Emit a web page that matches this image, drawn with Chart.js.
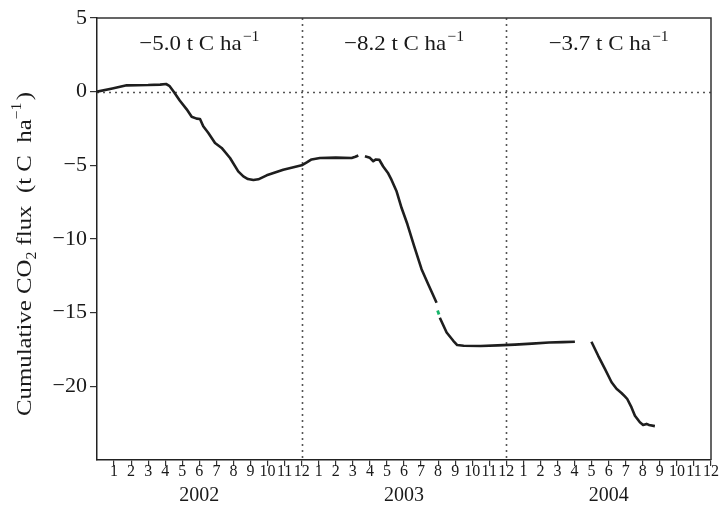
<!DOCTYPE html>
<html>
<head>
<meta charset="utf-8">
<script src="https://cdn.jsdelivr.net/npm/chart.js@4/dist/chart.umd.min.js"></script>
<style>
  html, body { margin: 0; padding: 0; background: #fff; }
  #wrap { width: 720px; height: 521px; }
</style>
</head>
<body>
<div id="wrap"><canvas id="c" width="720" height="521"></canvas></div>
<script>
// Time axis in months since 1 Jan 2002; null marks a break in the record.
const months = [
  0, 0.9, 1.74, 3.0, 3.7, 4.05, 4.24, 4.5, 4.85, 5.26, 5.55, 5.84, 6.04, 6.23, 6.53,
  6.92, 7.31, 7.8, 8.28, 8.58, 8.85, 9.17, 9.46, 9.95, 10.92, 12.0, 12.3, 12.58, 13.07,
  14.0, 14.93, 15.15, 15.32,
  15.5,
  15.71, 16.0, 16.2, 16.35, 16.55, 16.78, 17.05, 17.27, 17.57, 17.86, 18.2, 18.6,
  19.03, 19.42, 19.91,
  19.96,
  20.1, 20.5, 20.89, 21.12, 21.5, 22.5, 23.5, 24.5, 25.5, 26.5, 27.3, 28.02,
  28.5,
  28.99, 29.38, 29.78, 30.17, 30.46, 30.75, 30.95, 31.09, 31.34, 31.54, 31.83, 32.02,
  32.22, 32.37, 32.71
];
// Cumulative CO2 flux (t C ha-1)
const flux = [
  0, 0.22, 0.43, 0.45, 0.48, 0.52, 0.40, 0.0, -0.6, -1.2, -1.7, -1.83, -1.85, -2.35, -2.8,
  -3.48, -3.82, -4.5, -5.41, -5.75, -5.93, -6.0, -5.95, -5.68, -5.3, -5.0, -4.8, -4.6, -4.5,
  -4.48, -4.5, -4.42, -4.33,
  null,
  -4.38, -4.49, -4.72, -4.6, -4.62, -5.08, -5.5, -5.99, -6.78, -7.9, -9.0, -10.5,
  -12.05, -13.07, -14.33,
  null,
  -15.34, -16.35, -16.91, -17.2, -17.25, -17.26, -17.22, -17.17, -17.1, -17.03, -17.0, -16.97,
  null,
  -16.97, -17.91, -18.82, -19.72, -20.17, -20.45, -20.68, -20.86, -21.43, -21.99, -22.44, -22.62,
  -22.55, -22.62, -22.7
];
// Short gap-filled piece in mid 2003
const filledMonths = [19.97, 20.05];
const filledFlux = [-14.85, -15.12];

const years = ['2002', '2003', '2004'];
const annualTotals = ['\u22125.0', '\u22128.2', '\u22123.7'];
const monthTicks = Array.from({ length: 36 }, (_, i) => i + 1);
const fluxTicks = [5, 0, -5, -10, -15, -20];

const SERIF = '"Liberation Serif", "DejaVu Serif", serif';

// Draws a row of text runs (normal, sub- and superscript) centred on (cx, baseline),
// stretched along the writing direction to span `width` pixels.
function drawRuns(ctx, runs, cx, baseline, width) {
  let total = 0;
  const w = runs.map(r => {
    ctx.font = r.size + 'px ' + SERIF;
    const m = ctx.measureText(r.text).width + (r.gap || 0);
    total += m;
    return m;
  });
  const k = width ? width / total : 1;
  ctx.save();
  ctx.translate(cx, baseline);
  ctx.scale(k, 1);
  let x = -total / 2;
  ctx.textBaseline = 'alphabetic';
  ctx.textAlign = 'left';
  runs.forEach((r, i) => {
    ctx.font = r.size + 'px ' + SERIF;
    ctx.fillText(r.text, x + (r.gap || 0), r.dy || 0);
    x += w[i];
  });
  ctx.restore();
}

const decorations = {
  id: 'decorations',
  beforeDatasetsDraw(chart) {
    const { ctx, chartArea: a, scales: { x, y } } = chart;
    ctx.save();
    ctx.strokeStyle = '#555';
    ctx.lineWidth = 1.6;
    ctx.setLineDash([2, 4]);
    const y0 = Math.round(y.getPixelForValue(0)) + 0.5;
    ctx.beginPath();
    ctx.moveTo(a.left, y0);
    ctx.lineTo(a.right, y0);
    [12, 24].forEach(m => {
      const px = Math.round(x.getPixelForValue(m)) + 0.5;
      ctx.moveTo(px, a.top);
      ctx.lineTo(px, a.bottom);
    });
    ctx.stroke();
    ctx.restore();
  },
  afterDraw(chart) {
    const { ctx, chartArea: a, scales: { x } } = chart;
    ctx.save();
    // frame: top and right edges
    ctx.strokeStyle = '#333';
    ctx.lineWidth = 1.5;
    ctx.beginPath();
    ctx.moveTo(a.left, a.top);
    ctx.lineTo(a.right, a.top);
    ctx.lineTo(a.right, a.bottom);
    ctx.stroke();

    ctx.fillStyle = '#1a1a1a';
    // annual totals and year labels
    years.forEach((yr, i) => {
      const cx = x.getPixelForValue(i * 12 + 6);
      drawRuns(ctx, [
        { text: annualTotals[i] + ' t C ha', size: 22 },
        { text: '\u22121', size: 15, dy: -9, gap: 1 }
      ], cx, 50, 120);
      drawRuns(ctx, [{ text: yr, size: 20 }], cx, 501);
    });

    // y-axis title, rotated
    ctx.save();
    ctx.translate(31, 254);
    ctx.rotate(-Math.PI / 2);
    drawRuns(ctx, [
      { text: 'Cumulative CO', size: 22 },
      { text: '2', size: 14, dy: 5 },
      { text: ' flux  (t C  ha', size: 22 },
      { text: '\u22121', size: 14, dy: -10 },
      { text: ')', size: 22, gap: 2 }
    ], 0, 0, 324);
    ctx.restore();
    ctx.restore();
  }
};

new Chart(document.getElementById('c'), {
  type: 'line',
  data: {
    datasets: [
      {
        data: months.map((m, i) => ({ x: m, y: flux[i] })),
        borderColor: '#1e1e1e',
        borderWidth: 2.6,
        borderJoinStyle: 'round',
        pointRadius: 0,
        tension: 0,
        spanGaps: false
      },
      {
        data: filledMonths.map((m, i) => ({ x: m, y: filledFlux[i] })),
        borderColor: '#17b56a',
        borderWidth: 2.8,
        pointRadius: 0,
        tension: 0
      }
    ]
  },
  options: {
    responsive: false,
    devicePixelRatio: 1,
    animation: false,
    events: [],
    layout: { padding: { top: 18, right: 9, left: 0, bottom: 0 } },
    plugins: { legend: { display: false }, tooltip: { enabled: false } },
    scales: {
      x: {
        type: 'linear',
        min: 0,
        max: 36,
        afterBuildTicks: s => { s.ticks = monthTicks.map(v => ({ value: v })); },
        afterFit: s => { s.height = 61; },
        ticks: {
          autoSkip: false,
          maxRotation: 0,
          padding: -4,
          color: '#1a1a1a',
          font: { family: SERIF, size: 16 },
          callback: v => String(((v - 1) % 12) + 1)
        },
        grid: { drawOnChartArea: false, tickLength: 6, color: '#333', lineWidth: 1.2 },
        border: { color: '#222', width: 1.5 }
      },
      y: {
        type: 'linear',
        min: -25,
        max: 5,
        afterBuildTicks: s => { s.ticks = fluxTicks.map(v => ({ value: v })); },
        afterFit: s => { s.width = 97; },
        ticks: {
          padding: 3,
          color: '#1a1a1a',
          font: { family: SERIF, size: 22 },
          callback: v => (v < 0 ? '\u2212' + (-v) : String(v))
        },
        grid: { drawOnChartArea: false, tickLength: 7, color: '#333', lineWidth: 1.2 },
        border: { color: '#222', width: 1.5 }
      }
    }
  },
  plugins: [decorations]
});
</script>
</body>
</html>
